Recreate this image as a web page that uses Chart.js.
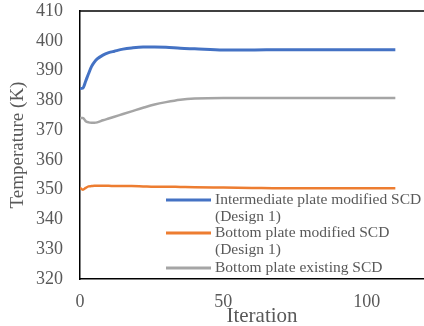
<!DOCTYPE html>
<html>
<head>
<meta charset="utf-8">
<script src="https://cdn.jsdelivr.net/npm/chart.js@4.4.1/dist/chart.umd.min.js"></script>
<style>
  html, body { margin: 0; padding: 0; background: #fff; overflow: hidden; }
  #wrap { width: 424px; height: 326px; }
</style>
</head>
<body>
<div id="wrap"><canvas id="chart" width="424" height="326"></canvas></div>
<script>
var iterations = [0, 1, 2, 3, 4, 5, 6, 8, 10, 12, 15, 18, 22, 26, 30, 35, 40, 50, 60, 70, 80, 90, 100, 110];

// temperatures (K)
var intermediateModified = [384.0, 384.1, 386.5, 389.0, 391.3, 392.8, 393.9, 395.2, 396.0, 396.5, 397.2, 397.6,
                            397.9, 397.9, 397.8, 397.5, 397.3, 396.9, 396.9, 397.0, 397.0, 397.0, 397.0, 397.0];
var bottomModified = [350.6, 350.0, 350.6, 351.1, 351.2, 351.3, 351.3, 351.3, 351.3, 351.2, 351.2, 351.2,
                      351.1, 351.0, 351.0, 350.9, 350.8, 350.7, 350.6, 350.5, 350.5, 350.5, 350.5, 350.5];
var bottomExisting = [374.0, 374.1, 373.0, 372.6, 372.5, 372.5, 372.6, 373.3, 373.9, 374.5, 375.4, 376.3,
                      377.5, 378.6, 379.4, 380.2, 380.6, 380.8, 380.8, 380.8, 380.8, 380.8, 380.8, 380.8];

var seriesNames = [["Intermediate plate modified SCD", "(Design 1)"],
                   ["Bottom plate modified SCD", "(Design 1)"],
                   ["Bottom plate existing SCD"]];
var xTicks = [0, 50, 100];
var yTicks = [320, 330, 340, 350, 360, 370, 380, 390, 400, 410];

var serif = "'Liberation Serif', 'Times New Roman', serif";
var grey = "#595959";

function pts(vals) {
    return iterations.map(function(x, i) { return { x: x, y: vals[i] }; });
}

// frame on top + custom legend + x title (Excel style)
var extras = {
    id: "extras",
    afterDraw: function(chart) {
        var ctx = chart.ctx, a = chart.chartArea;
        ctx.save();
        ctx.strokeStyle = "#000";
        ctx.lineWidth = 1.5;
        ctx.beginPath();
        ctx.moveTo(a.left, a.top);
        ctx.lineTo(a.right, a.top);
        ctx.stroke();

        // legend box
        ctx.fillStyle = "#fff";
        ctx.fillRect(160, 194, 264, 83);
        var rows = [200, 233, 268];
        ctx.font = "15.5px " + serif;
        ctx.textBaseline = "middle";
        ctx.textAlign = "left";
        chart.data.datasets.forEach(function(ds, i) {
            ctx.strokeStyle = ds.borderColor;
            ctx.lineWidth = 3;
            ctx.beginPath();
            ctx.moveTo(166, rows[i]);
            ctx.lineTo(211, rows[i]);
            ctx.stroke();
            ctx.fillStyle = grey;
            seriesNames[i].forEach(function(line, j) {
                ctx.fillText(line, 215, rows[i] + j * 16.5);
            });
        });

        // x axis title
        ctx.font = "21px " + serif;
        ctx.textAlign = "center";
        ctx.fillStyle = grey;
        ctx.fillText("Iteration", 262, 316);
        ctx.restore();
    }
};

var ctx = document.getElementById("chart");
var chart = new Chart(ctx, {
    type: "line",
    data: {
        datasets: [
            {
                label: seriesNames[0].join(" "),
                data: pts(intermediateModified),
                borderColor: "#4472C4",
                borderWidth: 3
            },
            {
                label: seriesNames[1].join(" "),
                data: pts(bottomModified),
                borderColor: "#ED7D31",
                borderWidth: 2.5
            },
            {
                label: seriesNames[2].join(" "),
                data: pts(bottomExisting),
                borderColor: "#A5A5A5",
                borderWidth: 2.5
            }
        ]
    },
    options: {
        responsive: false,
        animation: false,
        layout: { padding: { top: 11, left: 0, right: 0, bottom: 0 } },
        elements: {
            point: { radius: 0 },
            line: { cubicInterpolationMode: "monotone", fill: false }
        },
        plugins: {
            legend: { display: false },
            tooltip: { enabled: false }
        },
        scales: {
            x: {
                type: "linear",
                min: 0,
                max: 120,
                grid: { display: false, drawTicks: false },
                border: { display: true, color: "#000", width: 1.5 },
                afterBuildTicks: function(scale) {
                    scale.ticks = xTicks.map(function(v) { return { value: v }; });
                },
                afterFit: function(scale) { scale.height = 47; },
                ticks: {
                    padding: 12,
                    maxRotation: 0,
                    color: grey,
                    font: { family: serif, size: 18 }
                }
            },
            y: {
                min: 320,
                max: 410,
                grid: { display: false, drawTicks: false },
                border: { display: true, color: "#000", width: 1.5 },
                afterBuildTicks: function(scale) {
                    scale.ticks = yTicks.map(function(v) { return { value: v }; });
                },
                afterFit: function(scale) {
                    scale.width = 80;
                    // tick padding gets added on top/bottom too, drop it
                    scale.paddingTop = 0;
                    scale.paddingBottom = 0;
                },
                ticks: {
                    padding: 17,
                    color: grey,
                    font: { family: serif, size: 18 }
                },
                title: {
                    display: true,
                    text: "Temperature (K)",
                    color: grey,
                    padding: { top: 7, bottom: 0 },
                    font: { family: serif, size: 19 }
                }
            }
        }
    },
    plugins: [extras]
});
</script>
</body>
</html>
